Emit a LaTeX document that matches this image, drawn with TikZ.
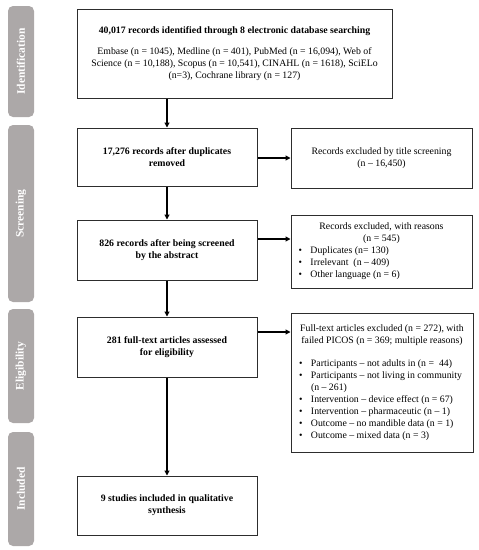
\documentclass[tikz,border=0pt]{standalone}
\usepackage{fontspec}
\setmainfont{Liberation Serif}
\usetikzlibrary{arrows.meta}
\definecolor{phasegray}{RGB}{172,168,168}
\definecolor{linegray}{RGB}{45,45,45}
\begin{document}
\begin{tikzpicture}[x=1pt,y=-1pt,
  box/.style={draw=linegray, line width=1pt, inner sep=0pt, align=center,
    font=\fontsize{9.8}{12}\selectfont},
  phase/.style={fill=phasegray, rounded corners=5pt, inner sep=0pt, text=white,
    font=\fontsize{11.5}{13}\selectfont\bfseries, rotate=90, minimum height=26pt},
  arr/.style={-{Triangle[length=5pt,width=5pt]}, line width=1.1pt}]
\useasboundingbox (0,0) rectangle (479,550);

% phase bars
\node[phase, minimum width=111pt] (p1) at (21,61.5) {Identification};
\node[phase, minimum width=177pt] (p2) at (21,213.5) {Screening};
\node[phase, minimum width=114pt] (p3) at (21,366) {Eligibility};
\node[phase, minimum width=114pt] (p4) at (21,489) {Included};

% main boxes
\node[box, minimum width=315pt, minimum height=89pt] (b1) at (234.5,53.5)
  {\textbf{40,017 records identified through 8 electronic database searching}\\[9pt]
   Embase (n = 1045), Medline (n = 401), PubMed (n = 16,094), Web of\\
   Science (n = 10,188), Scopus (n = 10,541), CINAHL (n = 1618), SciELo\\
   (n=3), Cochrane library (n = 127)};
\node[box, minimum width=180pt, minimum height=58pt] (b2) at (167,157)
  {\textbf{17,276 records after duplicates}\\\textbf{removed}};
\node[box, minimum width=180pt, minimum height=60pt] (b3) at (167,250)
  {\textbf{826 records after being screened}\\\textbf{by the abstract}};
\node[box, minimum width=180pt, minimum height=60pt] (b4) at (167,347)
  {\textbf{281 full-text articles assessed}\\\textbf{for eligibility}};
\node[box, minimum width=180pt, minimum height=59pt] (b5) at (167,505.5)
  {\textbf{9 studies included in qualitative}\\\textbf{synthesis}};

% right boxes
\node[box, minimum width=181pt, minimum height=60pt] (r1) at (381.5,158)
  {Records excluded by title screening\\(n – 16,450)};
\node[box, minimum width=181pt, minimum height=73pt] (r2) at (381.5,251.5)
  {\begin{tabular}{@{}p{166pt}@{}}
   \multicolumn{1}{@{}c@{}}{Records excluded, with reasons}\\
   \multicolumn{1}{@{}c@{}}{(n = 545)}\\
   \makebox[12pt][l]{\textbullet}Duplicates (n= 130)\\
   \makebox[12pt][l]{\textbullet}Irrelevant\ \ (n – 409)\\
   \makebox[12pt][l]{\textbullet}Other language (n = 6)
   \end{tabular}};
\node[box, minimum width=182pt, minimum height=139pt] (r3) at (382,382.5)
  {\begin{tabular}{@{}p{166pt}@{}}
   \multicolumn{1}{@{}c@{}}{Full-text articles excluded (n = 272), with}\\
   \multicolumn{1}{@{}c@{}}{failed PICOS (n = 369; multiple reasons)}\\[11pt]
   \makebox[12pt][l]{\textbullet}Participants – not adults in (n =\ \ 44)\\
   \makebox[12pt][l]{\textbullet}Participants – not living in community\\
   \hspace*{12pt}(n – 261)\\
   \makebox[12pt][l]{\textbullet}Intervention – device effect (n = 67)\\
   \makebox[12pt][l]{\textbullet}Intervention – pharmaceutic (n – 1)\\
   \makebox[12pt][l]{\textbullet}Outcome – no mandible data (n = 1)\\
   \makebox[12pt][l]{\textbullet}Outcome – mixed data (n = 3)
   \end{tabular}};

% connectors
\draw[arr] (b2.north |- b1.south) -- (b2.north);
\draw[arr] (b2.south) -- (b3.north);
\draw[arr] (b3.south) -- (b4.north);
\draw[arr] (b4.south) -- (b5.north);
\coordinate (a1) at ([yshift=-1pt]b2.east);
\coordinate (a2) at ([yshift=11pt]b3.east);
\coordinate (a3) at ([yshift=15pt]b4.east);
\draw[arr] (a1) -- (a1 -| r1.west);
\draw[arr] (a2) -- (a2 -| r2.west);
\draw[arr] (a3) -- (a3 -| r3.west);
\end{tikzpicture}
\end{document}
